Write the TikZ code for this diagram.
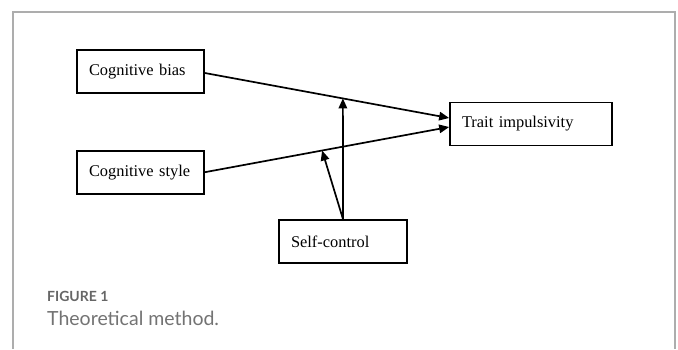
\documentclass[tikz,border=0pt]{standalone}
\usepackage{fontspec}
\setmainfont{Liberation Serif}
\newfontfamily\capfont{Lato}
\usetikzlibrary{arrows.meta, positioning}

\begin{document}
\begin{tikzpicture}[
        x=1pt, y=-1pt,
        box/.style={rectangle, draw=black, line width=1.7pt, minimum height=43pt, inner xsep=12pt, align=left, font=\fontsize{16.4}{18}\selectfont},
        arrow/.style={-{Triangle[length=10pt, width=8.5pt]}, line width=1.7pt},
        frameline/.style={line width=1.6pt, black!32}
    ]
        \useasboundingbox (0,0) rectangle (678,349);

        % Frame
        \draw[frameline] (13,349) -- (13,12) -- (675,12) -- (675,349);

        % Nodes
        \node[box, text width=103pt] (bias) at (140.5,71.5) {Cognitive bias};
        \node[box, text width=103pt, below=56pt of bias] (style) {Cognitive style};
        \node[box, text width=138pt] (trait) at (531,124) {Trait impulsivity};
        \node[box, text width=104pt] (selfctrl) at (343,241.5) {Self-control};

        % Caption
        \node[anchor=base west, inner sep=0pt, text=black!60, font=\capfont\bfseries\fontsize{14}{16}\selectfont] (fignum) at (47,301) {FIGURE 1};
        \node[anchor=base west, inner sep=0pt, text=black!55, font=\capfont\fontsize{19.5}{22}\selectfont] (figtitle) at (47,325) {Theoretical method.};

        % Connections
        \draw[arrow] ([yshift=-1.5pt]bias.east) -- ([yshift=6pt]trait.west) coordinate[pos=0.565] (modbias);
        \draw[arrow] (style.east) -- ([yshift=-3pt]trait.west) coordinate[pos=0.48] (modstyle);
        \draw[arrow] (selfctrl.north) -- (modbias);
        \draw[arrow] (selfctrl.north) -- (modstyle);
        
    \end{tikzpicture}
\end{document}
